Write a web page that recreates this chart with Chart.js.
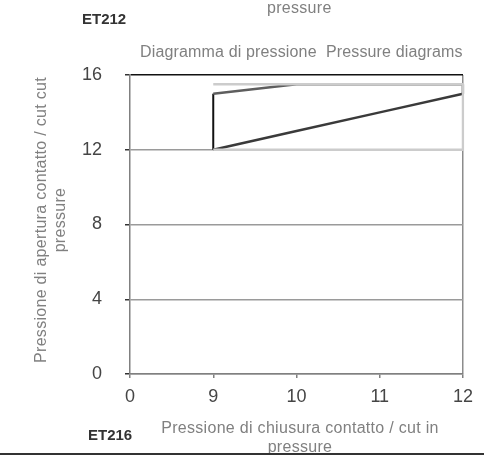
<!DOCTYPE html>
<html>
<head>
<meta charset="utf-8">
<script src="https://cdn.jsdelivr.net/npm/chart.js@4"></script>
<style>
  body { margin: 0; background: #fff; }
  #wrap { position: relative; width: 484px; height: 462px; overflow: hidden; font-family: "Liberation Sans", Arial, sans-serif; }
  #wrap canvas { position: absolute; left: 0; top: 0; }
  .txt { position: absolute; white-space: nowrap; font-size: 16px; line-height: 19px; color: #808080; letter-spacing: 0.3px; }
  .code { position: absolute; font-size: 15px; line-height: 15px; font-weight: bold; color: #333; }
  #title { left: 140px; top: 42px; letter-spacing: 0.15px; }
  #ytitle { left: -110px; top: 201px; width: 320px; text-align: center; transform: rotate(-90deg); }
  #xtitle { left: 130px; top: 418px; width: 340px; text-align: center; }
  #rule { position: absolute; left: 0; top: 453px; width: 484px; height: 2px; background: #333; }
</style>
</head>
<body>
<div id="wrap">
  <canvas id="chart" width="484" height="462"></canvas>
  <div class="txt" style="left:267px; top:-2px;">pressure</div>
  <div class="code" style="left:82px; top:11px;">ET212</div>
  <div class="txt" id="title">Diagramma di pressione&nbsp; Pressure diagrams</div>
  <div class="txt" id="ytitle">Pressione di apertura contatto / cut cut<br>pressure</div>
  <div class="txt" id="xtitle">Pressione di chiusura contatto / cut in<br>pressure</div>
  <div class="code" style="left:88px; top:427px;">ET216</div>
  <div id="rule"></div>
</div>
<script>
// x categories are the cut-in pressures, y is the cut-out pressure
var categories = ["0", "9", "10", "11", "12"];
var yTicks = [0, 4, 8, 12, 16];
var cutIn = ["9", "10", "11", "12"];
var cutOutMax = [15, 15.5, 15.5, 15.5];
var cutOutMin = [12, 13, 14, 15];
// light grey frame round the working range
var bandX = ["9", "12", "12", "9"];
var bandY = [15.5, 15.5, 12, 12];

function pts(xs, ys) {
  return xs.map(function (x, i) { return { x: x, y: ys[i] }; });
}

var last = cutIn.length - 1;
var ctx = document.getElementById("chart");

var chart = new Chart(ctx, {
  type: "line",
  data: {
    labels: categories,
    datasets: [
      { label: "band", data: pts(bandX, bandY), borderColor: "#cccccc", borderWidth: 2.5 },
      { label: "max", data: pts(cutIn, cutOutMax), borderColor: "#5e5e5e", borderWidth: 2.5 },
      { label: "min", data: pts(cutIn, cutOutMin), borderColor: "#3a3a3a", borderWidth: 2.5 },
      { label: "left", data: pts([cutIn[0], cutIn[0]], [cutOutMin[0], cutOutMax[0]]), borderColor: "#111", borderWidth: 2 },
      { label: "right", data: pts([cutIn[last], cutIn[last]], [cutOutMin[last], cutOutMax[last]]), borderColor: "#111", borderWidth: 2.5 }
    ]
  },
  options: {
    responsive: false,
    animation: false,
    layout: { padding: { left: 0, right: 21, top: 75, bottom: 0 } },
    elements: { point: { radius: 0 }, line: { tension: 0, fill: false } },
    plugins: { legend: { display: false }, tooltip: { enabled: false } },
    scales: {
      x: {
        type: "category",
        offset: false,
        afterFit: function (s) { s.height = 88; },
        border: { color: "#808080", width: 1.5 },
        grid: {
          color: function (c) { return c.index === categories.length - 1 ? "#8c8c8c" : "rgba(0,0,0,0)"; },
          lineWidth: 1.5,
          tickColor: "#808080",
          tickLength: 4
        },
        ticks: { color: "#454545", padding: 8, maxRotation: 0, font: { family: "Liberation Sans", size: 18 } }
      },
      y: {
        min: yTicks[0],
        max: yTicks[yTicks.length - 1],
        afterFit: function (s) { s.width = 130; },
        afterBuildTicks: function (s) { s.ticks = yTicks.map(function (v) { return { value: v }; }); },
        border: { color: "#808080", width: 1.5 },
        grid: {
          color: function (c) { return c.tick && c.tick.value === 16 ? "#111" : "#9a9a9a"; },
          lineWidth: 1.5,
          tickColor: "#333",
          tickLength: 5
        },
        ticks: { color: "#454545", padding: 23, font: { family: "Liberation Sans", size: 18 } }
      }
    }
  }
});
</script>
</body>
</html>
